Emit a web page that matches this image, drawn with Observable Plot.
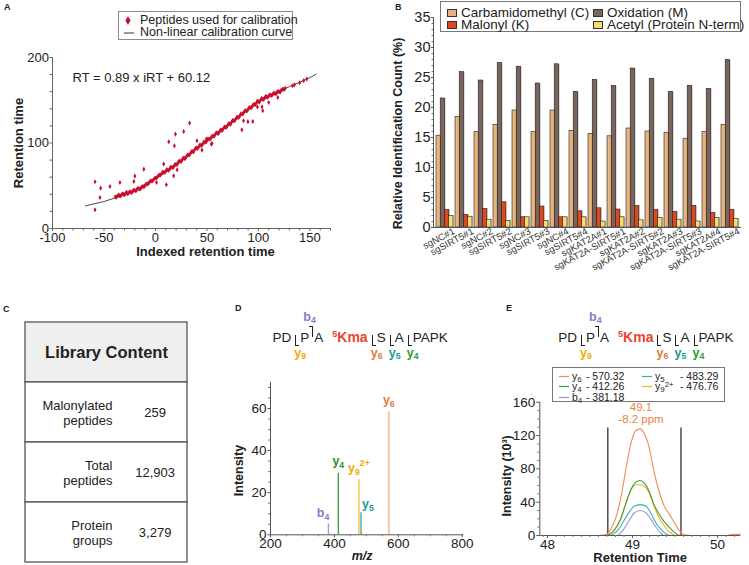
<!DOCTYPE html>
<html><head><meta charset="utf-8">
<script src="https://cdn.jsdelivr.net/npm/d3@7"></script>
<script src="https://cdn.jsdelivr.net/npm/@observablehq/plot@0.6"></script>
<style>
body{margin:0;background:#fff;font-family:"Liberation Sans",Arial,sans-serif;color:#222;}
#fig{position:relative;width:749px;height:565px;overflow:hidden;background:#fff;}
.abs{position:absolute;}
.plab{position:absolute;font-weight:bold;font-size:9px;}
.leg{position:absolute;background:#fff;box-sizing:border-box;}
.leg .it{position:absolute;white-space:nowrap;line-height:1;}
.sw{position:absolute;box-sizing:border-box;border:1px solid #333;}
.pep{position:absolute;font-size:13.5px;line-height:16px;white-space:nowrap;}
.cut{display:inline-block;position:relative;width:4px;height:11px;box-sizing:border-box;}
.cut.lo{border-left:1.2px solid #222;border-bottom:1.2px solid #222;vertical-align:-4px;margin:0 1px 0 4px;}
.cut.hi{border-right:1.2px solid #222;border-top:1.2px solid #222;vertical-align:5px;margin:0 1px 0 0;}
.cut .lab{position:absolute;font-weight:bold;font-size:12.5px;line-height:1;white-space:nowrap;}
.cut.lo .lab{top:12px;left:-2px;}
.cut.hi .lab{bottom:14px;left:-6px;}
.lab sub{font-size:70%;vertical-align:-2px;line-height:0;}
.leg sub{font-size:75%;vertical-align:-1.5px;line-height:0;}
.leg sup{font-size:75%;vertical-align:3px;line-height:0;}
.kma{color:#e8452c;font-weight:bold;font-size:14px;margin-left:9px;}
.kma sup{font-size:9px;vertical-align:5px;line-height:0;}
</style></head>
<body><div id="fig"></div>
<script>
// ================= DATA =================
// Panel A: iRT calibration
const bandPoints = [
 [-39,37],[-37,38],[-35,38.5],[-33,39.5],[-31,40],[-29,41],[-28,42.5],[-26,41.5],[-24,42.5],[-22,43.5],
 [-20,44.5],[-18,45.5],[-16,46.5],[-14,47.5],[-12,49],[-10,50.5],[-8,52],[-6,54],[-4,55.5],[-2,57],
 [0,59],[2,60.5],[4,62.5],[6,64],[8,65.5],[10,67],[12,68.5],[14,70],[16,71.5],[18,73],
 [20,75],[22,77],[24,78.5],[26,80.5],[28,82],[30,84],[32,86],[34,88],[36,90],[38,92],
 [40,94],[42,95.5],[44,97.5],[46,99],[48,101],[50,103],[52,104.5],[54,106],[56,108],[58,110],
 [60,111.5],[62,113],[64,115],[66,117],[68,118.5],[70,120.5],[72,122.5],[74,124.5],[76,126],[78,128],
 [80,130],[82,132],[84,134],[86,136],[88,137.5],[90,139.5],[92,141.5],[94,143],[96,145],[98,147],
 [100,148.5],[102,150],[104,151.5],[106,152.5],[108,154],[110,155],[112,156],[114,157],[116,158],[118,159],
 [120,160],[122,161.5],[124,163],[126,164],[133,167],[135,168],[140,170.5],[144,173],[147,175],
 [-38,36.5],[-36,39],[-34,38],[-32,40.5],[-30,39.5],[-27,40.5],[-25,43],[-23,42],[-21,45],[-19,44],
 [-17,47],[-15,46],[-13,49],[-11,49],[-9,52],[-7,52.5],[-5,55.5],[-3,55.5],[-1,58.5],[1,59],
 [3,62],[5,62.5],[7,66],[9,65.5],[11,69],[13,68],[15,72],[17,71],[19,75],[21,75],
 [23,79],[25,78.5],[27,82.5],[29,82],[31,86],[33,86],[35,90],[37,89.5],[39,94],[41,93.5],
 [43,97.5],[45,97],[47,101],[49,101],[51,105],[53,104.5],[55,108],[57,108],[59,112],[61,111],
 [63,115],[65,115],[67,119],[69,118.5],[71,122.5],[73,122],[75,126.5],[77,126],[79,130],[81,130],
 [83,134],[85,134],[87,138],[89,137.5],[91,141.5],[93,141],[95,145],[97,145],[99,149],[101,148],
 [103,152],[105,151],[107,154.5],[109,153.5],[111,156.5],[113,155.5],[115,158.5],[117,157.5],[119,160.5],[121,159.5],
 [123,162.5],[125,162.5]
];
const outlierPoints = [
 [-58.7,54.6],[-58.7,21.9],[-53.2,47.2],[-53.9,36.3],[-44.2,49.2],[-34.5,53.8],[-21,55],[-20,61.3],
 [-11.3,69.4],[1,53.8],[8,75.3],[10.6,51.1],[12.9,101.4],[17.7,61.6],[18.4,96.7],[19.4,110.4],
 [21,68.7],[27.4,113.5],[33.2,123.3],[40.3,102.6],[45.2,91.7],[49.4,104.6],[54.2,98.7],[55,99.5],
 [83.9,115.4],[85.5,126],[89.8,125],[94.5,125.2],[99,142.3],[104.2,137.7],[103.5,142.3],[110,147.4],[118.8,153.2]
];
const curvePoints = [
 [-68,26.5],[-50,31.5],[-40,35.5],[-30,39.5],[-20,44.5],[-10,50.5],[0,58.5],[10,66.5],[20,75],[30,84],
 [40,94],[50,103],[60,111.5],[70,120.5],[80,130],[90,139.5],[100,148.5],[110,155],[120,160],[130,166],
 [140,171],[150,176.5],[156,180.5]
];
const equationA = "RT = 0.89 x iRT + 60.12";
const xTicksA = [-100,-50,0,50,100,150];
const yTicksA = [0,100,200];
const xMinorA = [-90,-80,-70,-60,-40,-30,-20,-10,10,20,30,40,60,70,80,90,110,120,130,140,160,170];
const yMinorA = [20,40,60,80,120,140,160,180];

// Panel B: modification counts
const groupsB = ["sgNC#1","sgSIRT5#1","sgNC#2","sgSIRT5#2","sgNC#3","sgSIRT5#3","sgNC#4","sgSIRT5#4",
 "sgKAT2A#1","sgKAT2A-SIRT5#1","sgKAT2A#2","sgKAT2A-SIRT5#2","sgKAT2A#3","sgKAT2A-SIRT5#3","sgKAT2A#4","sgKAT2A-SIRT5#4"];
const carbamidomethyl = [15.3,18.4,15.9,17.1,19.5,15.9,19.5,16.1,15.6,15.2,16.5,16.0,15.8,14.8,15.9,17.1];
const oxidation      = [21.5,25.9,24.5,27.4,26.8,24.0,27.2,22.6,24.6,23.6,26.5,24.8,22.6,23.6,23.1,27.9];
const malonyl        = [2.9,2.1,3.1,4.2,1.7,3.5,1.7,2.7,3.2,3.0,3.6,2.9,2.6,3.6,2.4,2.9];
const acetyl         = [1.9,1.8,1.3,1.1,1.7,1.1,1.7,1.7,1.0,1.7,1.2,1.6,1.3,1.0,1.6,1.4];
const modsB = ["Carbamidomethyl (C)","Oxidation (M)","Malonyl (K)","Acetyl (Protein N-term)"];
const colorsB = ["#e8b47c","#7b645b","#e2461f","#f6dc6c"];
const yTicksB = [0,5,10,15,20,25,30,35];
const yMinorB = [1,2,3,4,6,7,8,9,11,12,13,14,16,17,18,19,21,22,23,24,26,27,28,29,31,32,33,34];

// Panel C: library table
const tableHeader = "Library Content";
const tableLabels = ["Malonylated\npeptides","Total\npeptides","Protein\ngroups"];
const tableValues = ["259","12,903","3,279"];

// Panel D: MS/MS spectrum
const ionsD = ["b_4","y_4","y_9^2+","y_5","y_6"];
const mzD = [381.18,412.26,476.76,483.29,570.32];
const intensityD = [5.2,29.3,26.2,10.5,58.4];
const lineColorsD = ["#a097d8","#3f9c3f","#f7bb3a","#35a7a7","#f6c7a3"];
const labelColorsD = ["#8a7cc9","#2e8f2e","#f5a800","#1a9a9a","#e07b39"];
const xTicksD = [200,400,600,800];
const xMinorD = [250,300,350,450,500,550,650,700,750];
const yTicksD = [0,20,40,60];
const yMinorD = [5,10,15,25,30,35,45,50,55,65,70];

// Panel E: extracted ion chromatograms
const xicY6 = [[48.6,0],[48.66,0.5],[48.72,3],[48.745,8],[48.80,20],[48.86,44],[48.92,78],[48.98,110],[49.04,126],[49.09,128],[49.14,122],[49.20,104],[49.25,78],[49.31,54],[49.37,36],[49.43,26],[49.49,16],[49.55,6],[49.61,1],[49.7,0],[50.1,0],[50.16,1.2],[50.27,1.3]];
const xicY4 = [[48.68,0],[48.72,1],[48.78,6],[48.86,20],[48.92,38],[48.98,55],[49.04,64],[49.09,66],[49.14,63],[49.20,52],[49.25,38],[49.31,26],[49.37,17],[49.45,8],[49.53,1],[49.57,0]];
const xicY9 = [[48.7,0],[48.74,1],[48.78,5],[48.86,19],[48.92,37],[48.98,54],[49.04,61],[49.09,61],[49.14,59],[49.20,50],[49.25,36],[49.31,22],[49.37,12],[49.45,3],[49.5,0]];
const xicY5 = [[48.74,0],[48.78,2],[48.84,8],[48.90,18],[48.96,28],[49.02,35],[49.09,37],[49.16,35],[49.22,26],[49.27,16],[49.33,8],[49.41,1],[49.45,0]];
const xicB4 = [[48.82,0],[48.85,2],[48.90,8],[48.96,18],[49.02,27],[49.09,30],[49.16,27],[49.22,19],[49.27,11],[49.33,3],[49.37,0]];
const xicSeries = [xicY6, xicY4, xicY9, xicY5, xicB4];
const xicColors = ["#f08c55","#3e9e3e","#f5b324","#3bb0b0","#9d94dc"];
const boundariesE = [48.71, 49.57];
const boundaryTopE = 129;
const apexE = 49.1, apexText = ["49.1","-8.2 ppm"];
const xTicksE = [48,49,50];
const xMinorE = [47.95,48.1,48.2,48.3,48.4,48.5,48.6,48.7,48.8,48.9,49.1,49.2,49.3,49.4,49.5,49.6,49.7,49.8,49.9,50.1,50.2];
const yTicksE = [0,40,80,120,160];
const yMinorE = [10,20,30,50,60,70,90,100,110,130,140,150];
const legendE = [["y","6","","570.32"],["y","4","","412.26"],["b","4","","381.18"],["y","5","","483.29"],["y","9","2+","476.76"]];
const legendColorsE = ["#f08c55","#3e9e3e","#9d94dc","#3bb0b0","#f5b324"];

// ================= RENDER =================
const FONT = '"Liberation Sans", Arial, sans-serif';
const fig = document.getElementById("fig");
function place(node, left, top) {
  const d = document.createElement("div");
  d.className = "abs"; d.style.left = left + "px"; d.style.top = top + "px";
  d.appendChild(node); fig.appendChild(d); return d;
}
function st(fs) { return {fontFamily: FONT, fontSize: fs + "px", color: "#222", background: "transparent", overflow: "visible"}; }
function richify(root) {
  const ns = "http://www.w3.org/2000/svg";
  root.querySelectorAll("text").forEach(t => {
    if (t.querySelector("tspan")) return;
    const m = /^([A-Za-z]+)_(\w+)(?:\^(.+))?$/.exec(t.textContent);
    if (!m) return;
    t.textContent = "";
    const a = document.createElementNS(ns, "tspan"); a.textContent = m[1]; t.appendChild(a);
    const b = document.createElementNS(ns, "tspan"); b.textContent = m[2];
    b.setAttribute("font-size", "70%"); b.setAttribute("dy", "0.35em"); t.appendChild(b);
    if (m[3]) {
      const c = document.createElementNS(ns, "tspan"); c.textContent = m[3];
      c.setAttribute("font-size", "70%"); c.setAttribute("dy", "-0.95em"); t.appendChild(c);
    }
  });
}
const noText = () => "";
const plain = d => String(d);

// ---- Panel A ----
const plotA = Plot.plot({
  width: 330, height: 218, marginLeft: 52, marginRight: 0, marginTop: 12, marginBottom: 35,
  x: {domain: [-100, 170]}, y: {domain: [0, 200]},
  style: st(13),
  marks: [
    Plot.ruleY([0], {stroke: "#666"}),
    Plot.ruleX([-100], {stroke: "#666"}),
    Plot.axisX({ticks: xMinorA, tickSize: 2.5, tickFormat: noText, label: null, stroke: "#666"}),
    Plot.axisX({ticks: xTicksA, tickSize: 3, tickPadding: 1.5, tickFormat: plain, label: null, fontSize: 13, stroke: "#666"}),
    Plot.axisY({ticks: yMinorA, tickSize: 2.5, tickFormat: noText, label: null, stroke: "#666"}),
    Plot.axisY({ticks: yTicksA, tickSize: 2.5, tickPadding: 1, tickFormat: plain, label: null, fontSize: 13, stroke: "#666"}),
    Plot.line(curvePoints, {x: d => d[0], y: d => d[1], stroke: "#333", strokeWidth: 0.9}),
    Plot.dot(bandPoints.concat(outlierPoints), {x: d => d[0], y: d => d[1], symbol: "diamond", r: 1.55, fill: "#c8102e", stroke: "none"}),
    Plot.text([equationA], {frameAnchor: "top-left", textAnchor: "start", lineAnchor: "middle", dx: 20, dy: 20, fontSize: 13}),
    Plot.text(["Retention time"], {frameAnchor: "left", textAnchor: "middle", rotate: -90, dx: -34, fontWeight: "bold", fontSize: 13}),
    Plot.text(["Indexed retention time"], {frameAnchor: "bottom", lineAnchor: "middle", dx: 14, dy: 23, fontWeight: "bold", fontSize: 13})
  ]
});
place(plotA, 0, 45);

// ---- Panel B ----
const padIn = 0.12, padOut = 0.1, bW = 379, bML = 63, bMR = 8;
const stepB = (bW - bML - bMR) / (groupsB.length - padIn + 2 * padOut);
const subW = stepB * (1 - padIn) / 4;
const seriesB = [carbamidomethyl, oxidation, malonyl, acetyl];
const barMarks = [];
seriesB.forEach((vals, k) => {
  const rows = groupsB.map((g, i) => ({g, v: vals[i]}));
  barMarks.push(Plot.barY(rows, {x: "g", y: "v", fill: "#a8a8a8", fillOpacity: 0.55, dx: 1.2, insetLeft: k * subW, insetRight: (3 - k) * subW}));
  barMarks.push(Plot.barY(rows, {x: "g", y: "v", fill: colorsB[k], stroke: "#222", strokeWidth: 0.6, insetLeft: k * subW, insetRight: (3 - k) * subW}));
});
const plotB = Plot.plot({
  width: bW, height: 267, marginLeft: bML, marginRight: bMR, marginTop: 17, marginBottom: 40,
  x: {type: "band", domain: groupsB, paddingInner: padIn, paddingOuter: padOut},
  y: {domain: [0, 35]},
  style: st(14),
  marks: [
    ...barMarks,
    Plot.ruleY([0], {stroke: "#555"}),
    Plot.frame({anchor: "left", stroke: "#555"}),
    Plot.axisY({ticks: yMinorB, tickSize: 1.5, tickFormat: noText, label: null, stroke: "#777"}),
    Plot.axisY({ticks: yTicksB, tickSize: 2, tickPadding: 1, label: null, fontSize: 14.5, stroke: "#555"}),
    Plot.axisX({tickRotate: -28, tickSize: 0, tickPadding: 3, dx: 9, label: null, fontSize: 9.5, fill: "#333"}),
    Plot.text(["Relative Identification Count (%)"], {frameAnchor: "left", textAnchor: "middle", rotate: -90, dx: -36, dy: 11, fontWeight: "bold", fontSize: 12.5})
  ]
});
place(plotB, 370, 0);

// ---- Panel C ----
const rowKeys = [tableHeader, ...tableLabels];
const bodyRows = tableLabels.map((l, i) => ({row: l, value: tableValues[i]}));
const plotC = Plot.plot({
  width: 172, height: 250, marginLeft: 5, marginRight: 5, marginTop: 5.7, marginBottom: 1.7,
  x: {domain: [0, 1], axis: null}, y: {type: "band", domain: rowKeys, padding: 0, axis: null},
  style: st(13),
  marks: [
    Plot.barX([tableHeader], {x1: 0, x2: 1, y: d => d, fill: "#efefef", stroke: "#555", strokeWidth: 1.3}),
    Plot.barX(bodyRows, {x1: 0, x2: 1, y: "row", fill: "#fff", stroke: "#555", strokeWidth: 1.3}),
    Plot.text([tableHeader], {x: 0.5, y: d => d, fontWeight: "bold", fontSize: 16.5}),
    Plot.text(bodyRows, {x: 0.537, y: "row", text: "row", textAnchor: "end", fontSize: 13, lineHeight: 1.2}),
    Plot.text(bodyRows, {x: 0.8, y: "row", text: "value", fontSize: 13})
  ]
});
place(plotC, 20, 315);

// ---- Panel D ----
const peaksD = ionsD.map((ion, i) => ({ion, mz: mzD[i], v: intensityD[i], lc: lineColorsD[i], tc: labelColorsD[i]}));
const plotD = Plot.plot({
  width: 240, height: 194, marginLeft: 40, marginRight: 6.7, marginTop: 11.7, marginBottom: 29.7,
  x: {domain: [200, 805]}, y: {domain: [0, 72.5]},
  color: {type: "identity"},
  style: st(13),
  marks: [
    Plot.ruleX(peaksD, {x: "mz", y1: 0, y2: "v", stroke: "lc", strokeWidth: d => d.ion === "y_6" ? 2 : 1.3}),
    Plot.ruleY([0], {stroke: "#555"}),
    Plot.ruleX([200], {stroke: "#555"}),
    Plot.axisX({ticks: xMinorD, tickSize: 2, tickFormat: noText, label: null, stroke: "#777"}),
    Plot.axisX({ticks: xTicksD, tickSize: 3, tickPadding: 1, tickFormat: plain, label: null, fontSize: 13.5, stroke: "#555"}),
    Plot.axisY({ticks: yMinorD, tickSize: 2, tickFormat: noText, label: null, stroke: "#777"}),
    Plot.axisY({ticks: yTicksD, tickSize: 2.5, tickPadding: 1.5, tickFormat: plain, label: null, fontSize: 13.5, stroke: "#555"}),
    Plot.text(peaksD.filter(d => d.ion === "b_4"), {x: "mz", y: "v", text: "ion", fill: "tc", textAnchor: "end", dx: 1, dy: -11, fontWeight: "bold", fontSize: 12.5}),
    Plot.text(peaksD.filter(d => d.ion === "y_5"), {x: "mz", y: "v", text: "ion", fill: "tc", textAnchor: "start", dx: 1, dy: -9, fontWeight: "bold", fontSize: 12.5}),
    Plot.text(peaksD.filter(d => ["y_4","y_9^2+","y_6"].includes(d.ion)), {x: "mz", y: "v", text: "ion", fill: "tc", dy: -12, fontWeight: "bold", fontSize: 12.5}),
    Plot.text(["Intensity"], {frameAnchor: "left", textAnchor: "middle", rotate: -90, dx: -32, dy: 12, fontWeight: "bold", fontSize: 12.5}),
    Plot.text(["m/z"], {frameAnchor: "bottom", lineAnchor: "middle", dx: -5, dy: 21, fontWeight: "bold", fontStyle: "italic", fontSize: 12.5})
  ]
});
richify(plotD);
place(plotD, 230, 370);

// ---- Panel E ----
const lineMarksE = xicSeries.map((s, k) => Plot.line(s, {x: d => d[0], y: d => d[1], stroke: xicColors[k], strokeWidth: 1.1, curve: "monotone-x"}));
const apexY = d3.max(xicY6, d => d[1]);
const plotE = Plot.plot({
  width: 259, height: 175, marginLeft: 49.3, marginRight: 9, marginTop: 11.7, marginBottom: 30,
  x: {domain: [47.91, 50.27]}, y: {domain: [0, 160]},
  style: st(13),
  marks: [
    Plot.ruleX(boundariesE, {y1: 0, y2: boundaryTopE, stroke: "#222", strokeWidth: 1.2}),
    ...lineMarksE.slice().reverse(),
    Plot.ruleY([0], {stroke: "#555"}),
    Plot.ruleX([47.91], {stroke: "#555"}),
    Plot.axisX({ticks: xMinorE, tickSize: 2, tickFormat: noText, label: null, stroke: "#777"}),
    Plot.axisX({ticks: xTicksE, tickSize: 3, tickPadding: 1, tickFormat: plain, label: null, fontSize: 13.5, stroke: "#555"}),
    Plot.axisY({ticks: yMinorE, tickSize: 2, tickFormat: noText, label: null, stroke: "#777"}),
    Plot.axisY({ticks: yTicksE, tickSize: 3, tickPadding: 1.5, tickFormat: plain, label: null, fontSize: 13.5, stroke: "#555"}),
    Plot.text([apexText[0]], {x: apexE, y: apexY, dy: -22, fill: "#e8834a", fontSize: 11.5}),
    Plot.text([apexText[1]], {x: apexE, y: apexY, dy: -10, fill: "#e8834a", fontSize: 11.5}),
    Plot.text(["Intensity (10³)"], {frameAnchor: "left", textAnchor: "middle", rotate: -90, dx: -33, dy: 7, fontWeight: "bold", fontSize: 12.5}),
    Plot.text(["Retention Time"], {frameAnchor: "bottom", lineAnchor: "middle", dx: 0, dy: 22, fontWeight: "bold", fontSize: 13})
  ]
});
place(plotE, 490, 390);

// ---- Legends ----
function legendBox(left, top, w, h, border) {
  const d = document.createElement("div"); d.className = "leg";
  Object.assign(d.style, {left: left + "px", top: top + "px", width: w + "px", height: h + "px", border});
  fig.appendChild(d); return d;
}
function item(box, x, yc, html, fs) {
  const s = document.createElement("div"); s.className = "it";
  s.style.left = x + "px"; s.style.top = (yc - fs / 2) + "px"; s.style.fontSize = fs + "px";
  s.innerHTML = html; box.appendChild(s); return s;
}
// Legend A
const legA = legendBox(118, 11, 175, 29, "1px solid #8a8a8a");
item(legA, 6, 8.5, '<svg width="6" height="9" style="display:block"><polygon points="3,0 5.6,4.5 3,9 0.4,4.5" fill="#c8102e"/></svg>', 9);
item(legA, 21, 8.5, "Peptides used for calibration", 12.5);
item(legA, 5, 20.5, '<svg width="10" height="4" style="display:block"><line x1="0" y1="2" x2="10" y2="2" stroke="#333" stroke-width="1"/></svg>', 4);
item(legA, 21, 20.5, "Non-linear calibration curve", 12.5);
// Legend B
const legB = legendBox(440, 1, 301, 31, "1.5px solid #777");
const legBpos = [[6, 10.5], [152, 10.5], [6, 22.5], [152, 22.5]];
modsB.forEach((name, k) => {
  const [x, y] = legBpos[k];
  const sw = document.createElement("div"); sw.className = "sw";
  Object.assign(sw.style, {left: x + "px", top: (y - 4) + "px", width: "10px", height: "8px", background: colorsB[k]});
  legB.appendChild(sw);
  item(legB, x + 14, y, name, 13.5);
});
// Legend E
const legE = legendBox(552, 367, 173, 35, "1.5px solid #777");
const legEpos = [[6, 8], [6, 18.5], [6, 29], [89, 8], [89, 18.5]];
legendE.forEach(([a, sub, sup, mz], k) => {
  const [x, y] = legEpos[k];
  item(legE, x, y, `<svg width="10" height="3" style="display:block"><line x1="0" y1="1.5" x2="10" y2="1.5" stroke="${legendColorsE[k]}" stroke-width="1.2"/></svg>`, 3);
  item(legE, x + 13, y, `<span style="display:inline-block;width:${k >= 3 ? 22 : 11}px">${a}<sub>${sub}</sub>${sup ? "<sup>" + sup + "</sup>" : ""}</span> - ${mz}`, 10.5);
});

// ---- Peptide annotations ----
function peptide(left) {
  const d = document.createElement("div"); d.className = "pep";
  d.style.left = left + "px"; d.style.top = "326px";
  d.innerHTML =
    'PD<span class="cut lo"><span class="lab" style="color:#f5a800">y<sub>9</sub></span></span>' +
    'P<span class="cut hi"><span class="lab" style="color:#8a7cc9">b<sub>4</sub></span></span>A' +
    '<span class="kma"><sup>5</sup>Kma</span>' +
    '<span class="cut lo"><span class="lab" style="color:#e07b39">y<sub>6</sub></span></span>S' +
    '<span class="cut lo"><span class="lab" style="color:#1a9a9a">y<sub>5</sub></span></span>A' +
    '<span class="cut lo"><span class="lab" style="color:#2e9a2e">y<sub>4</sub></span></span>PAPK';
  fig.appendChild(d);
}
peptide(272.5);
peptide(558.3);

// ---- Panel letters ----
[["A", 4, 2], ["B", 395, 2], ["C", 3, 304], ["D", 235, 303], ["E", 506, 303]].forEach(([t, x, y]) => {
  const s = document.createElement("div"); s.className = "plab"; s.textContent = t;
  s.style.left = x + "px"; s.style.top = y + "px"; fig.appendChild(s);
});
</script></body></html>
